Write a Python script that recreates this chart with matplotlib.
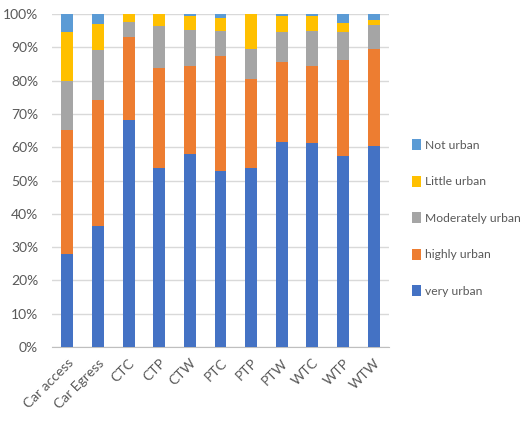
import matplotlib
matplotlib.use("Agg")
import matplotlib.pyplot as plt
import numpy as np
from matplotlib import font_manager

# Data: share of trips by urbanisation level (%)
categories = ["Car access", "Car Egress", "CTC", "CTP", "CTW", "PTC", "PTP",
              "PTW", "WTC", "WTP", "WTW"]
very_urban = [27.9, 36.2, 68.2, 53.9, 57.9, 52.9, 53.8, 61.6, 61.2, 57.5, 60.5]
highly_urban = [37.4, 38.0, 24.8, 29.9, 26.6, 34.6, 26.8, 24.1, 23.2, 28.7, 28.9]
moderately_urban = [14.7, 15.1, 4.7, 12.7, 10.7, 7.4, 9.0, 8.9, 10.6, 8.3, 7.2]
little_urban = [14.7, 7.7, 2.3, 3.5, 4.3, 3.9, 10.4, 4.8, 4.4, 2.8, 1.5]
not_urban = [5.3, 3.0, 0.0, 0.0, 0.5, 1.2, 0.0, 0.6, 0.6, 2.7, 1.9]

series = [
    ("very urban", very_urban, "#4472C4"),
    ("highly urban", highly_urban, "#ED7D31"),
    ("Moderately urban", moderately_urban, "#A5A5A5"),
    ("Little urban", little_urban, "#FFC000"),
    ("Not urban", not_urban, "#5B9BD5"),
]

names = {f.name for f in font_manager.fontManager.ttflist}
family = "DejaVu Sans"
for cand in ["Liberation Sans Narrow", "DejaVu Sans Condensed", "Lato"]:
    if cand in names:
        family = cand
        break
plt.rcParams["font.family"] = [family, "DejaVu Sans"]
if family == "DejaVu Sans Condensed":
    plt.rcParams["font.stretch"] = "condensed"

fig = plt.figure(figsize=(5.21, 4.30), dpi=100)
ax = fig.add_axes([52 / 521, 1 - 347 / 430, (389 - 52) / 521, (347 - 14) / 430])

x = np.arange(len(categories))
total = (np.array(very_urban) + np.array(highly_urban) + np.array(moderately_urban)
         + np.array(little_urban) + np.array(not_urban))
bottom = np.zeros(len(categories))
handles = []
for label, vals, color in series:
    pct = np.array(vals) / total * 100
    b = ax.bar(x, pct, 0.39, bottom=bottom, color=color, label=label, zorder=3)
    handles.append(b)
    bottom += pct

ax.set_xlim(-0.5, len(categories) - 0.5)
ax.set_ylim(0, 100)
ax.set_yticks(np.arange(0, 101, 10))
ax.set_yticklabels([f"{t}%" for t in range(0, 101, 10)])
ax.yaxis.grid(True, color="#D9D9D9", linewidth=1, zorder=0)
ax.set_axisbelow(True)
for s in ["left", "right", "top"]:
    ax.spines[s].set_visible(False)
ax.spines["bottom"].set_color("#BFBFBF")
ax.tick_params(axis="y", length=0, labelsize=10, colors="#595959", pad=10)
ax.tick_params(axis="x", length=0, labelsize=10, colors="#595959", pad=7)
ax.set_xticks(x)
ax.set_xticklabels(categories, rotation=45, ha="right", va="top",
                   rotation_mode="anchor")

leg = fig.legend(handles[::-1], [s[0] for s in series][::-1],
                 loc="center left", bbox_to_anchor=(408 / 521, 1 - 218 / 430),
                 frameon=False, fontsize=8.7, labelcolor="#595959",
                 handlelength=0.75, handleheight=1.05, handletextpad=0.35,
                 labelspacing=2.05, borderaxespad=0, borderpad=0.3)

fig.savefig("out.png", dpi=100)
